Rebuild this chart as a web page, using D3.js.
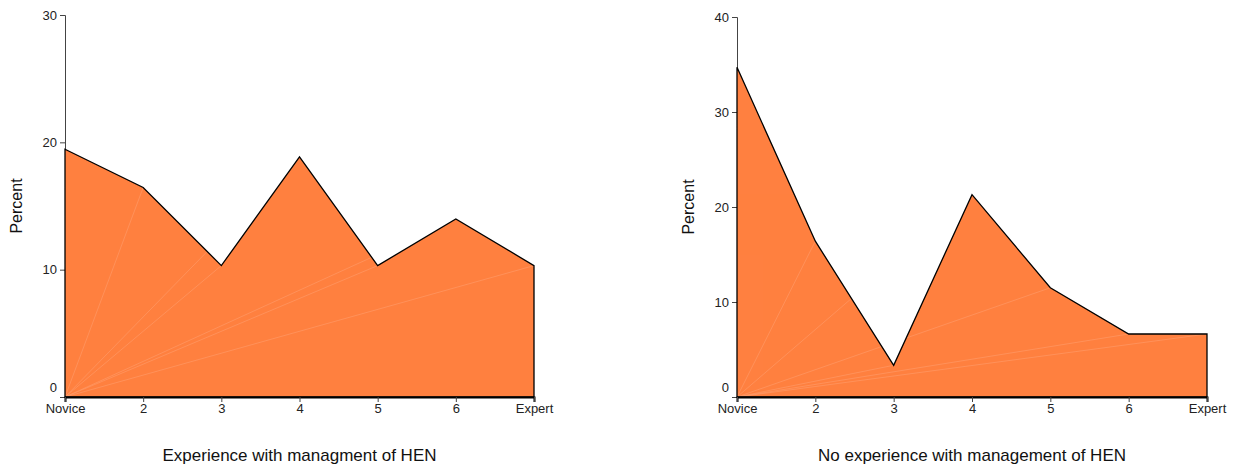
<!DOCTYPE html>
<html>
<head>
<meta charset="utf-8">
<script src="https://cdn.jsdelivr.net/npm/d3@7"></script>
<style>
  body { margin: 0; background: #fff; }
  svg text { font-family: "Liberation Sans", Arial, sans-serif; }
</style>
</head>
<body>
<div id="chart"></div>
<script>
const levels = ['Novice', '2', '3', '4', '5', '6', 'Expert'];
const experienced = [19.46, 16.45, 10.32, 18.85, 10.32, 13.98, 10.32];
const inexperienced = [34.7, 16.4, 3.34, 21.3, 11.5, 6.63, 6.63];
const leftTicks = [0, 10, 20, 30];
const rightTicks = [0, 10, 20, 30, 40];

const svg = d3.select('#chart').append('svg')
  .attr('width', 1238).attr('height', 465);

function panel(opts) {
  const { id, left, width, top, bottom, values, yMax, ticks, title } = opts;
  const H = bottom - top;
  const g = svg.append('g').attr('transform', `translate(${left},${top})`);

  const x = d3.scalePoint().domain(levels).range([0, width]);
  const y = d3.scaleLinear().domain([0, yMax]).range([H, 0]);

  const rows = levels.map((l, i) => ({ l, v: values[i] }));

  const yAxis = g.append('g').call(d3.axisLeft(y).tickValues(ticks).tickSize(5).tickPadding(3));
  yAxis.select('.domain').attr('stroke', '#444').attr('stroke-width', 1);
  yAxis.selectAll('.tick line').attr('stroke', '#444');
  yAxis.selectAll('text').attr('fill', '#222').attr('font-size', '13px');
  // the 0 label sits a bit higher so it clears "Novice"
  yAxis.selectAll('.tick').filter(d => d === 0).select('text').attr('dy', '-0.4em');

  const area = d3.area().x(d => x(d.l)).y0(H).y1(d => y(d.v));

  svg.append('clipPath').attr('id', 'clip-' + id)
    .append('path').datum(rows).attr('d', area);

  g.append('path').datum(rows)
    .attr('d', area)
    .attr('fill', '#ff8040');

  // faint rendering seams inside the fill
  const seam = g.append('g').attr('clip-path', `url(#clip-${id})`)
    .attr('stroke', '#ffb08a').attr('stroke-width', 0.6).attr('opacity', 0.6);
  for (let i = 1; i < rows.length; i++) {
    seam.append('line')
      .attr('x1', x(levels[0])).attr('y1', H)
      .attr('x2', x(rows[i].l)).attr('y2', y(rows[i].v));
  }

  g.append('path').datum(rows)
    .attr('d', area)
    .attr('fill', 'none')
    .attr('stroke', '#000').attr('stroke-width', 1.3);

  const xAxis = g.append('g').attr('transform', `translate(0,${H})`)
    .call(d3.axisBottom(x).tickSize(5).tickPadding(2));
  xAxis.select('.domain').attr('stroke', '#000').attr('stroke-width', 2);
  xAxis.selectAll('.tick line').attr('stroke', '#444');
  xAxis.selectAll('text').attr('fill', '#222').attr('font-size', '13px');

  g.append('text')
    .attr('transform', `translate(${-43},${H / 2}) rotate(-90)`)
    .attr('text-anchor', 'middle').attr('fill', '#111').attr('font-size', '16px')
    .text('Percent');

  g.append('text')
    .attr('x', width / 2).attr('y', 461 - top)
    .attr('text-anchor', 'middle').attr('fill', '#111').attr('font-size', '17px')
    .text(title);
}

panel({ id: 'a', left: 65, width: 469, top: 15, bottom: 397, values: experienced, yMax: 30,
  ticks: leftTicks, title: 'Experience with managment of HEN' });
panel({ id: 'b', left: 737, width: 470, top: 17, bottom: 397, values: inexperienced, yMax: 40,
  ticks: rightTicks, title: 'No experience with management of HEN' });
</script>
</body>
</html>
